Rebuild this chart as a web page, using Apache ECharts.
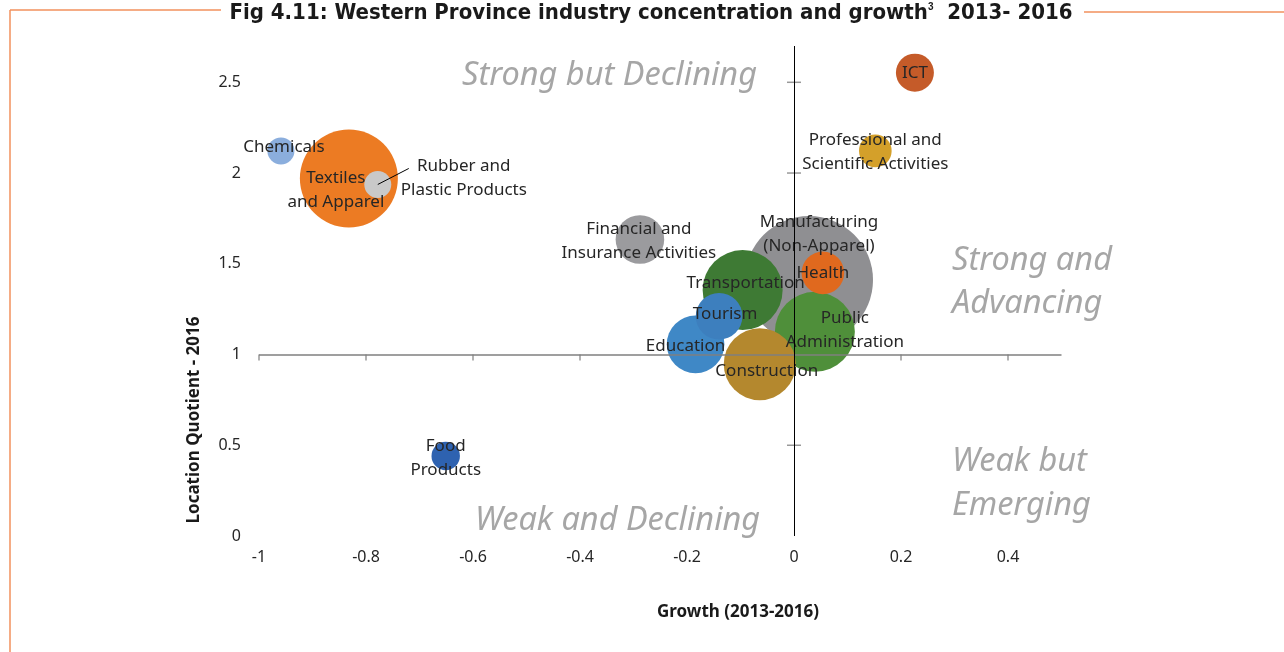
<!DOCTYPE html>
<html>
<head>
<meta charset="utf-8">
<script src="https://cdn.jsdelivr.net/npm/echarts@6/dist/echarts.min.js"></script>
<style>
  html, body { margin: 0; padding: 0; background: #fff; }
  #chart { width: 1284px; height: 652px; }
</style>
</head>
<body>
<div id="chart"></div>
<script>
// ---------------- data ----------------
const categories = ['Manufacturing (Non-Apparel)', 'Textiles and Apparel', 'Transportation', 'Public Administration',
  'Construction', 'Education', 'Financial and Insurance Activities', 'Tourism', 'Health', 'ICT',
  'Professional and Scientific Activities', 'Food Products', 'Chemicals', 'Rubber and Plastic Products'];
const labelTexts = ['Manufacturing\n(Non-Apparel)', 'Textiles\nand Apparel', 'Transportation', 'Public\nAdministration',
  'Construction', 'Education', 'Financial and\nInsurance Activities', 'Tourism', 'Health', 'ICT',
  'Professional and\nScientific Activities', 'Food\nProducts', 'Chemicals', 'Rubber and\nPlastic Products'];
const growth = [0.028, -0.832, -0.096, 0.039, -0.064, -0.184, -0.288, -0.140, 0.054, 0.226, 0.152, -0.651, -0.959, -0.778];
const locationQuotient = [1.410, 1.970, 1.355, 1.125, 0.947, 1.056, 1.634, 1.211, 1.450, 2.553, 2.122, 0.441, 2.122, 1.937];
const bubbleSize = [41.0, 24.0, 16.0, 16.0, 12.96, 8.3, 5.9, 5.43, 4.54, 3.61, 2.66, 2.02, 1.82, 1.82];
const xTickValues = [-1, -0.8, -0.6, -0.4, -0.2, 0.2, 0.4];
const yTickValues = [0.5, 1.5, 2, 2.5];

// ---------------- styles ----------------
const colors = ['#8F8F92', '#EC7B23', '#3E7A34', '#4F8F3A', '#B4882E', '#3F88C6', '#9B9B9E', '#3D7FBE',
  '#E0691E', '#C55B29', '#D4A02A', '#2E62B0', '#8BAEDD', '#C9C9C9'];
const labelNudge = [[10, -46], [-13, 12], [3, -7], [30, -2], [7, 7], [-10, 2], [-1, 2], [6, -2], [0, 0], [0, 0],
  [0, 1], [0, 2], [3, -4], [86, -6]];
const leaderIndex = 13;          // label with a leader line (Rubber and Plastic Products)
const leaderEnd = [31, -16];     // leader line end, px relative to the bubble centre

const FONT = '"Noto Sans", "DejaVu Sans", sans-serif';
const QUAD = { fontFamily: FONT, fontStyle: 'italic', fontSize: 32.5, fill: '#A6A6A6', textVerticalAlign: 'middle' };

const bubbleData = categories.map((c, i) => ({
  name: c,
  value: [growth[i], locationQuotient[i], bubbleSize[i]],
  itemStyle: { color: colors[i] },
  label: { formatter: labelTexts[i] }
}));

const chart = echarts.init(document.getElementById('chart'), null, { renderer: 'canvas' });

const graphics = [
  { type: 'line', silent: true, shape: { x1: 10, y1: 10, x2: 221, y2: 10 }, style: { stroke: '#F2905C', lineWidth: 1.5 } },
  { type: 'line', silent: true, shape: { x1: 10, y1: 10, x2: 10, y2: 652 }, style: { stroke: '#F2905C', lineWidth: 1.5 } },
  { type: 'line', silent: true, shape: { x1: 1084, y1: 12, x2: 1284, y2: 12 }, style: { stroke: '#F2905C', lineWidth: 1.5 } },
  {
    type: 'text', silent: true, x: 651, y: 13,
    style: {
      text: '{a|Fig 4.11: Western Province industry concentration and growth}{s|3}{a|  2013- 2016}',
      textAlign: 'center', textVerticalAlign: 'middle',
      rich: {
        a: { fontFamily: '"Liberation Sans Narrow", "DejaVu Sans Condensed", sans-serif', fontWeight: 'bold', fontSize: 22, fill: '#1a1a1a' },
        s: { fontFamily: '"Liberation Sans Narrow", sans-serif', fontWeight: 'bold', fontSize: 10, fill: '#1a1a1a', verticalAlign: 'top', padding: [0, 0, 10, 0] }
      }
    }
  },
  { type: 'text', silent: true, x: 462, y: 76, style: Object.assign({ text: 'Strong but Declining' }, QUAD) },
  { type: 'text', silent: true, x: 952, y: 282.5, style: Object.assign({ text: 'Strong and\nAdvancing', lineHeight: 43 }, QUAD) },
  { type: 'text', silent: true, x: 952, y: 484, style: Object.assign({ text: 'Weak but\nEmerging', lineHeight: 44 }, QUAD) },
  { type: 'text', silent: true, x: 475, y: 521, style: Object.assign({ text: 'Weak and Declining' }, QUAD) },
  { type: 'text', silent: true, x: 738, y: 612,
    style: { text: 'Growth (2013-2016)', fontFamily: FONT, fontWeight: 'bold', fontSize: 17, fill: '#1a1a1a', textAlign: 'center', textVerticalAlign: 'middle' } },
  { type: 'text', silent: true, x: 194, y: 420, rotation: Math.PI / 2,
    style: { text: 'Location Quotient - 2016', fontFamily: FONT, fontWeight: 'bold', fontSize: 17, fill: '#1a1a1a', textAlign: 'center', textVerticalAlign: 'middle' } }
];

const option = {
  animation: false,
  backgroundColor: '#fff',
  grid: { left: 259, right: 222.5, top: 46, bottom: 116, containLabel: false },
  xAxis: {
    type: 'value', min: -1, max: 0.5, interval: 0.2,
    axisLine: { show: false }, axisTick: { show: false }, splitLine: { show: false },
    axisLabel: { color: '#262626', fontSize: 16, fontFamily: FONT, margin: 13, showMaxLabel: false,
      formatter: v => String(Math.round(v * 10) / 10) }
  },
  yAxis: {
    type: 'value', min: 0, max: 2.7, interval: 0.5,
    axisLine: { show: false }, axisTick: { show: false }, splitLine: { show: false },
    axisLabel: { color: '#262626', fontSize: 16, fontFamily: FONT, margin: 18, showMaxLabel: false,
      formatter: v => String(v) }
  },
  series: [
    {
      type: 'scatter', name: 'axes-x-ticks', silent: true, z: 1,
      data: xTickValues.map(v => [v, 1]),
      symbol: 'rect', symbolSize: [1.5, 6], symbolOffset: [0, 3],
      itemStyle: { color: '#7F7F7F' },
      markLine: {
        silent: true, symbol: 'none', label: { show: false },
        data: [
          { yAxis: 1, lineStyle: { color: '#7F7F7F', width: 1.5, type: 'solid' } },
          { xAxis: 0, lineStyle: { color: '#000', width: 1, type: 'solid' } }
        ]
      }
    },
    {
      type: 'scatter', name: 'axes-y-ticks', silent: true, z: 1,
      data: yTickValues.map(v => [0, v]),
      symbol: 'rect', symbolSize: [14, 1.5],
      itemStyle: { color: '#7F7F7F' }
    },
    {
      type: 'scatter', name: 'industries', z: 3,
      data: bubbleData,
      symbolSize: v => 20 * Math.sqrt(v[2]),
      itemStyle: { opacity: 1 },
      label: {
        show: true, position: 'inside', color: '#262626', fontSize: 17, fontFamily: FONT,
        lineHeight: 24, align: 'center'
      },
      labelLayout: p => ({ dx: labelNudge[p.dataIndex][0], dy: labelNudge[p.dataIndex][1] }),
      emphasis: { disabled: true }
    }
  ],
  graphic: graphics
};

chart.setOption(option);

// leader line for the Rubber and Plastic Products label, anchored at the bubble via the chart's scales
const c = chart.convertToPixel({ seriesIndex: 2 }, [growth[leaderIndex], locationQuotient[leaderIndex]]);
chart.setOption({
  graphic: graphics.concat([{
    type: 'line', silent: true, z: 100,
    shape: { x1: c[0], y1: c[1], x2: c[0] + leaderEnd[0], y2: c[1] + leaderEnd[1] },
    style: { stroke: '#000', lineWidth: 1 }
  }])
});
</script>
</body>
</html>
